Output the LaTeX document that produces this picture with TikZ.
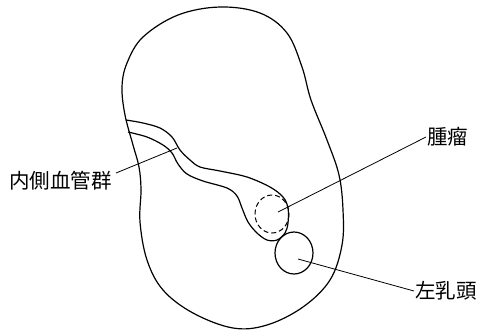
\documentclass[tikz,border=0pt]{standalone}
\usepackage{fontspec}
\newfontfamily\jpfont{Noto Sans CJK JP}
\usetikzlibrary{calc}
\tikzset{
	lbl/.style={font=\jpfont\fontsize{20.5}{24}\selectfont, inner sep=1pt},
	leader/.style={line width=0.8pt},
	contour/.style={line width=1.2pt, line join=round}
}
\begin{document}
\begin{tikzpicture}[x=1pt, y=-1pt]
	\useasboundingbox (0,0) rectangle (481,330);
	% breast outline
	\draw[contour] plot[smooth cycle, tension=0.6] coordinates {
		(220,7) (260,13) (287,33) (302,67) (311,100) (327,140) (339,175) (343,210)
		(342,245) (330,280) (303,307) (267,325) (233,328) (193,313) (163,290)
		(147,260) (140,222) (141,190) (139,167) (133,145) (125,115) (122,87)
		(127,63) (143,37) (178,15)};
	% inner vessel band ending in a pocket round the tumour
	\draw[contour] plot[smooth, tension=0.55] coordinates {
		(126,120) (143,123) (160,128) (172,137) (180,150) (190,160) (200,167)
		(220,171) (247,177) (270,187) (283,197) (288,208) (288,223) (285,233)
		(277,240) (267,240) (257,233) (248,222) (242,208) (237,196) (227,188)
		(203,181) (187,174) (178,164) (172,153) (163,145) (147,137) (128,132)};
	% tumour and nipple
	\draw[line width=1pt, dash pattern=on 5pt off 3pt] (272,214) ellipse [x radius=17, y radius=19];
	\draw[contour] (294,253) ellipse [x radius=19, y radius=21];
	\coordinate (vesselpt) at (177,148);
	\coordinate (tumor) at (278,212);
	\coordinate (nipple) at (298,259);
	% labels
	\node[lbl, anchor=east] (vessel) at (113,181) {内側血管群};
	\node[lbl, anchor=west] (tumorlbl) at (426,137) {腫瘤};
	\node[lbl, anchor=west] (nipplelbl) at (414,291) {左乳頭};
	\draw[leader] ($(vessel.east)+(3,-8)$) -- (vesselpt);
	\draw[leader] (tumorlbl.west) -- (tumor);
	\draw[leader] (nipplelbl.west) -- (nipple);
\end{tikzpicture}
\end{document}
